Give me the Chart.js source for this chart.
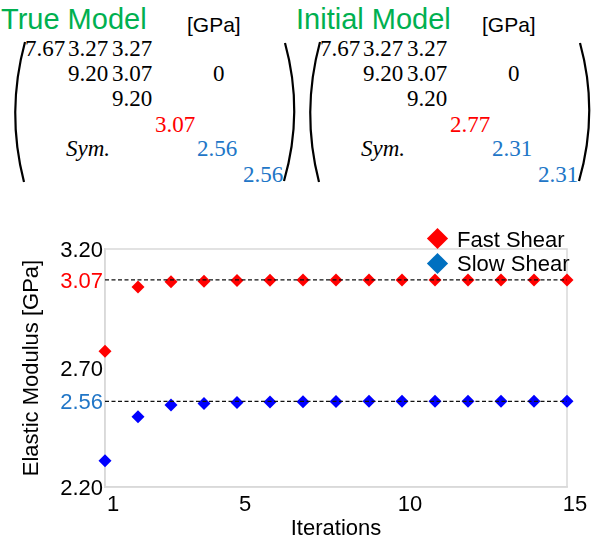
<!DOCTYPE html>
<html>
<head>
<meta charset="utf-8">
<script src="https://cdn.jsdelivr.net/npm/chart.js@4"></script>
<style>
  body { margin: 0; background: #fff; }
  #page { position: relative; width: 594px; height: 545px; overflow: hidden; font-family: "Liberation Sans", Arial, sans-serif; }
  .title { position: absolute; color: #00b050; font-size: 29px; line-height: 1; }
  .unit { position: absolute; color: #000; font-size: 21px; line-height: 1; }
  .m { position: absolute; font-family: "Liberation Serif", serif; font-size: 23px; line-height: 1; color: #000; white-space: nowrap; }
  .m.r { color: #ff0000; }
  .m.b { color: #2176c7; }
  .m.i { font-style: italic; }
  svg.paren { position: absolute; left: 0; top: 0; }
  #chartBox { position: absolute; left: 0; top: 200px; width: 594px; height: 345px; }
  .leg { position: absolute; font-size: 22px; line-height: 1; color: #000; }
  .dia { position: absolute; width: 15px; height: 15px; transform: rotate(45deg); }
</style>
</head>
<body>
<div id="page">
  <div id="mats"></div>
  <svg class="paren" width="594" height="200">
    <g fill="none" stroke="#000" stroke-width="2.2">
      <path d="M25 42 Q 6 112 24 182" />
      <path d="M285 43 Q 304 112 284 181" />
      <path d="M320 42 Q 301 112 319 182" />
      <path d="M580 43 Q 599 112 579 181" />
    </g>
  </svg>
  <div id="chartBox"><canvas id="chart"></canvas></div>
  <div class="dia" style="left:430px; top:231px; background:#ff0000;"></div>
  <div class="leg" style="left:457px; top:229px;">Fast Shear</div>
  <div class="dia" style="left:430px; top:256px; background:#0070c0;"></div>
  <div class="leg" style="left:457px; top:253px;">Slow Shear</div>
</div>
<script>
// Data ------------------------------------------------------------

const modelTitles = ['True Model', 'Initial Model'];
const fastShearDiag = ['3.07', '2.77'];   // red diagonal entry
const slowShearDiag = ['2.56', '2.31'];   // blue diagonal entries

const iterations = [1, 2, 3, 4, 5, 6, 7, 8, 9, 10, 11, 12, 13, 14, 15];
const fastShear = [2.77, 3.04, 3.062, 3.065, 3.068, 3.069, 3.07, 3.07, 3.07, 3.07, 3.07, 3.07, 3.07, 3.07, 3.07];
const slowShear = [2.31, 2.495, 2.545, 2.551, 2.555, 2.557, 2.558, 2.559, 2.56, 2.56, 2.56, 2.56, 2.56, 2.56, 2.56];
const trueValues = [3.07, 2.56];

const xTicks = [1, 5, 10, 15];
const yTicks = [2.20, 2.56, 2.70, 3.07, 3.20];

// Matrices (top) ---------------------------------------------------

const mats = document.getElementById('mats');
function put(cls, text, x, y) {
  const s = document.createElement('div');
  s.className = cls;
  s.textContent = text;
  s.style.left = x + 'px';
  s.style.top = y + 'px';
  mats.appendChild(s);
}

modelTitles.forEach((t, k) => {
  const dx = k * 295;
  put('title', t, 1 + dx, 5);
  put('unit', '[GPa]', 187 + dx, 14);
  put('m', '7.67', 25 + dx, 37);
  put('m', '3.27', 68 + dx, 37);
  put('m', '3.27', 112 + dx, 37);
  put('m', '9.20', 68 + dx, 62);
  put('m', '3.07', 112 + dx, 62);
  put('m', '0', 213 + dx, 62);
  put('m', '9.20', 112 + dx, 87);
  put('m r', fastShearDiag[k], 155 + dx, 113);
  put('m i', 'Sym.', 66 + dx, 137);
  put('m b', slowShearDiag[k], 197 + dx, 137);
  put('m b', slowShearDiag[k], 243 + dx, 163);
});

// Chart ------------------------------------------------------------

const tickColor = (v) => {
  if (Math.abs(v - 3.07) < 1e-6) return '#ff0000';
  if (Math.abs(v - 2.56) < 1e-6) return '#2176c7';
  return '#000';
};

const framePlugin = {
  id: 'frame',
  beforeDatasetsDraw(chart) {
    const a = chart.chartArea;
    const ctx = chart.ctx;
    ctx.save();
    ctx.strokeStyle = '#d9d9d9';
    ctx.lineWidth = 1.5;
    ctx.strokeRect(a.left, a.top, a.right - a.left, a.bottom - a.top);
    ctx.restore();
  }
};

const refLine = (v) => ({
  label: 'ref',
  data: [{x: iterations[0], y: v}, {x: iterations[iterations.length - 1], y: v}],
  borderColor: '#111',
  borderWidth: 1.2,
  borderDash: [4, 2.5],
  pointRadius: 0,
  showLine: true,
  clip: false
});

const chart = new Chart(document.getElementById('chart'), {
  type: 'scatter',
  data: {
    datasets: [
      refLine(trueValues[0]),
      refLine(trueValues[1]),
      {
        label: 'Fast Shear',
        data: iterations.map((x, i) => ({x: x, y: fastShear[i]})),
        pointStyle: 'rectRot',
        pointRadius: 6.5,
        pointBackgroundColor: '#ff0000',
        pointBorderWidth: 0,
        clip: false
      },
      {
        label: 'Slow Shear',
        data: iterations.map((x, i) => ({x: x, y: slowShear[i]})),
        pointStyle: 'rectRot',
        pointRadius: 6.5,
        pointBackgroundColor: '#0000ff',
        pointBorderWidth: 0,
        clip: false
      }
    ]
  },
  options: {
    responsive: true,
    maintainAspectRatio: false,
    animation: false,
    layout: { autoPadding: false, padding: { top: 49, right: 27, left: 0, bottom: 0 } },
    plugins: { legend: { display: false }, tooltip: { enabled: false } },
    scales: {
      x: {
        type: 'linear',
        min: 1, max: 15,
        afterBuildTicks: (s) => { s.ticks = xTicks.map(v => ({value: v})); },
        afterFit: (s) => { s.height = 58; },
        grid: { display: false, drawTicks: false },
        border: { color: '#d9d9d9', width: 1.5 },
        ticks: { color: '#000', font: { size: 22, family: 'Liberation Sans' }, padding: 5, labelOffset: 8, maxRotation: 0 },
        title: { display: true, text: 'Iterations', color: '#000', font: { size: 22, family: 'Liberation Sans' }, padding: { top: 0, bottom: 3 } }
      },
      y: {
        min: 2.2, max: 3.2,
        afterBuildTicks: (s) => { s.ticks = yTicks.map(v => ({value: v})); },
        afterFit: (s) => { s.width = 105; },
        grid: { display: false, drawTicks: false },
        border: { color: '#d9d9d9', width: 1.5 },
        ticks: {
          font: { size: 22, family: 'Liberation Sans' },
          padding: 2,
          labelOffset: 2,
          color: (c) => tickColor(c.tick.value),
          callback: (v) => v.toFixed(2)
        },
        title: { display: true, text: 'Elastic Modulus [GPa]', color: '#000', font: { size: 22, family: 'Liberation Sans' }, padding: { top: 19, bottom: 0 } }
      }
    }
  },
  plugins: [framePlugin]
});
</script>
</body>
</html>
